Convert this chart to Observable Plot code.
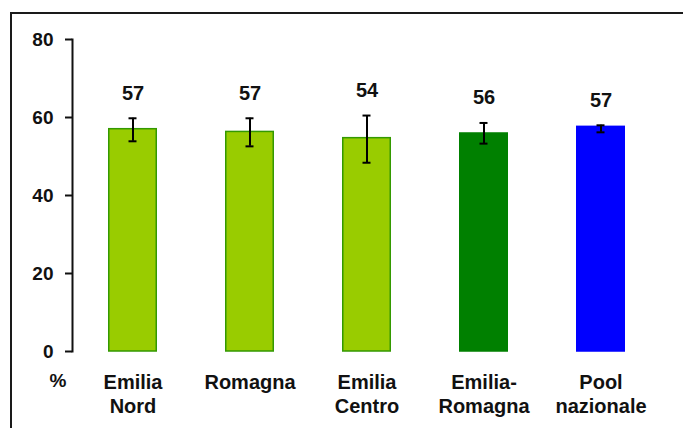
<!DOCTYPE html>
<html>
<head>
<meta charset="utf-8">
<script src="https://cdn.jsdelivr.net/npm/d3@7"></script>
<script src="https://cdn.jsdelivr.net/npm/@observablehq/plot@0.6"></script>
<style>
  html, body { margin: 0; padding: 0; background: #fff; overflow: hidden; }
  #wrap { position: relative; width: 683px; height: 428px; }
  #box { position: absolute; left: 10px; top: 12px; width: 900px; height: 600px;
         border: 2px solid #1a1a1a; box-sizing: border-box; pointer-events: none; }
  svg { font-family: "Liberation Sans", Arial, sans-serif; }
</style>
</head>
<body>
<div id="wrap"><div id="box"></div></div>
<script>
// Data
const categories = ["Emilia Nord", "Romagna", "Emilia Centro", "Emilia-Romagna", "Pool nazionale"];
const tickLabels = ["Emilia\nNord", "Romagna", "Emilia\nCentro", "Emilia-\nRomagna", "Pool\nnazionale"];
const values = [57.0, 56.3, 54.7, 55.9, 57.6];
const lower = [53.9, 52.6, 48.4, 53.3, 56.2];
const upper = [59.8, 59.8, 60.5, 58.6, 58.0];
const valueLabels = ["57", "57", "54", "56", "57"];
const yTicks = [0, 20, 40, 60, 80];

// Styles
const fills = ["#99cc00", "#99cc00", "#99cc00", "#008000", "#0000ff"];
const strokes = ["#339900", "#339900", "#339900", "#008000", "#0000ff"];

const data = categories.map((c, i) => ({
  cat: c, value: values[i], lo: lower[i], hi: upper[i], label: valueLabels[i],
  fill: fills[i], stroke: strokes[i]
}));
const tickMap = new Map(categories.map((c, i) => [c, tickLabels[i]]));

const chart = Plot.plot({
  width: 683,
  height: 428,
  marginLeft: 72,
  marginRight: 22,
  marginTop: 39,
  marginBottom: 77,
  style: { fontFamily: "'Liberation Sans', Arial, sans-serif", color: "#111", background: "transparent" },
  x: { domain: categories, paddingInner: 0.579, paddingOuter: 0.295, label: null },
  y: { domain: [0, 80], label: null },
  marks: [
    Plot.barY(data, { x: "cat", y: "value", fill: d => d.fill, stroke: d => d.stroke, strokeWidth: 1.5, insetLeft: 0.75, insetRight: 0.75 }),
    Plot.ruleX(data, { x: "cat", y1: "lo", y2: "hi", stroke: "#000", strokeWidth: 2 }),
    Plot.tickY(data, { x: "cat", y: "lo", stroke: "#000", strokeWidth: 2, insetLeft: 20.5, insetRight: 20.5 }),
    Plot.tickY(data, { x: "cat", y: "hi", stroke: "#000", strokeWidth: 2, insetLeft: 20.5, insetRight: 20.5 }),
    Plot.text(data, { x: "cat", y: "hi", text: "label", dy: -25, fontSize: 20, fontWeight: "bold", fill: "#111", lineAnchor: "middle" }),
    Plot.frame({ anchor: "left", stroke: "#111", strokeWidth: 2 }),
    Plot.axisY({ ticks: yTicks, tickSize: 7, tickPadding: 12, fontSize: 19, fontWeight: "bold", stroke: "#111", strokeWidth: 2, label: null }),
    Plot.axisX({ tickSize: 0, tickPadding: 20, fontSize: 20, fontWeight: "bold", lineHeight: 1.2, tickFormat: d => tickMap.get(d), label: null }),
    Plot.text(["%"], { frameAnchor: "bottom-left", dx: -23, dy: 29, fontSize: 19, fontWeight: "bold", fill: "#111", lineAnchor: "middle" })
  ]
});
chart.style.position = "absolute";
chart.style.left = "0px";
chart.style.top = "0px";
document.getElementById("wrap").appendChild(chart);
</script>
</body>
</html>
